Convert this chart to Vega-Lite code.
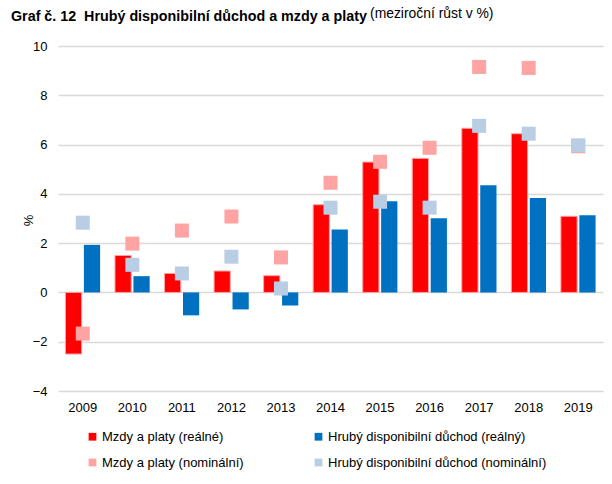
{
  "$schema": "https://vega.github.io/schema/vega-lite/v6.json",
  "width": 545,
  "height": 345,
  "autosize": "none",
  "padding": {"left": 58, "top": 46, "right": 9, "bottom": 93},
  "background": "white",
  "title": {
    "text": "Graf č. 12\u00a0 Hrubý disponibilní důchod a mzdy a platy",
    "subtitle": "(meziroční růst v %)",
    "anchor": "start",
    "frame": "group",
    "orient": "top",
    "offset": 14,
    "dx": -47,
    "font": "Liberation Sans",
    "fontSize": 14.3,
    "fontWeight": "bold",
    "color": "#000000",
    "subtitleFont": "Liberation Sans",
    "subtitleFontSize": 13.9,
    "subtitleFontWeight": "normal",
    "subtitleColor": "#000000",
    "subtitlePadding": -16.5,
    "encode": {"subtitle": {"update": {"dx": {"value": 312}}}}
  },
  "data": {
    "values": [
      {"year": "2009", "series": "Mzdy a platy (reálné)", "value": -2.5},
      {"year": "2009", "series": "Hrubý disponibilní důchod (reálný)", "value": 1.93},
      {"year": "2009", "series": "Mzdy a platy (nominální)", "value": -1.67},
      {"year": "2009", "series": "Hrubý disponibilní důchod (nominální)", "value": 2.83},
      {"year": "2010", "series": "Mzdy a platy (reálné)", "value": 1.5},
      {"year": "2010", "series": "Hrubý disponibilní důchod (reálný)", "value": 0.66},
      {"year": "2010", "series": "Mzdy a platy (nominální)", "value": 1.98},
      {"year": "2010", "series": "Hrubý disponibilní důchod (nominální)", "value": 1.12},
      {"year": "2011", "series": "Mzdy a platy (reálné)", "value": 0.77},
      {"year": "2011", "series": "Hrubý disponibilní důchod (reálný)", "value": -0.93},
      {"year": "2011", "series": "Mzdy a platy (nominální)", "value": 2.51},
      {"year": "2011", "series": "Hrubý disponibilní důchod (nominální)", "value": 0.77},
      {"year": "2012", "series": "Mzdy a platy (reálné)", "value": 0.87},
      {"year": "2012", "series": "Hrubý disponibilní důchod (reálný)", "value": -0.69},
      {"year": "2012", "series": "Mzdy a platy (nominální)", "value": 3.08},
      {"year": "2012", "series": "Hrubý disponibilní důchod (nominální)", "value": 1.45},
      {"year": "2013", "series": "Mzdy a platy (reálné)", "value": 0.68},
      {"year": "2013", "series": "Hrubý disponibilní důchod (reálný)", "value": -0.53},
      {"year": "2013", "series": "Mzdy a platy (nominální)", "value": 1.42},
      {"year": "2013", "series": "Hrubý disponibilní důchod (nominální)", "value": 0.16},
      {"year": "2014", "series": "Mzdy a platy (reálné)", "value": 3.56},
      {"year": "2014", "series": "Hrubý disponibilní důchod (reálný)", "value": 2.55},
      {"year": "2014", "series": "Mzdy a platy (nominální)", "value": 4.45},
      {"year": "2014", "series": "Hrubý disponibilní důchod (nominální)", "value": 3.44},
      {"year": "2015", "series": "Mzdy a platy (reálné)", "value": 5.29},
      {"year": "2015", "series": "Hrubý disponibilní důchod (reálný)", "value": 3.7},
      {"year": "2015", "series": "Mzdy a platy (nominální)", "value": 5.3},
      {"year": "2015", "series": "Hrubý disponibilní důchod (nominální)", "value": 3.68},
      {"year": "2016", "series": "Mzdy a platy (reálné)", "value": 5.44},
      {"year": "2016", "series": "Hrubý disponibilní důchod (reálný)", "value": 3.01},
      {"year": "2016", "series": "Mzdy a platy (nominální)", "value": 5.87},
      {"year": "2016", "series": "Hrubý disponibilní důchod (nominální)", "value": 3.44},
      {"year": "2017", "series": "Mzdy a platy (reálné)", "value": 6.66},
      {"year": "2017", "series": "Hrubý disponibilní důchod (reálný)", "value": 4.35},
      {"year": "2017", "series": "Mzdy a platy (nominální)", "value": 9.15},
      {"year": "2017", "series": "Hrubý disponibilní důchod (nominální)", "value": 6.76},
      {"year": "2018", "series": "Mzdy a platy (reálné)", "value": 6.44},
      {"year": "2018", "series": "Hrubý disponibilní důchod (reálný)", "value": 3.83},
      {"year": "2018", "series": "Mzdy a platy (nominální)", "value": 9.11},
      {"year": "2018", "series": "Hrubý disponibilní důchod (nominální)", "value": 6.44},
      {"year": "2019", "series": "Mzdy a platy (reálné)", "value": 3.09},
      {"year": "2019", "series": "Hrubý disponibilní důchod (reálný)", "value": 3.13},
      {"year": "2019", "series": "Mzdy a platy (nominální)", "value": 5.93},
      {"year": "2019", "series": "Hrubý disponibilní důchod (nominální)", "value": 5.97}
    ]
  },
  "encoding": {
    "x": {
      "field": "year",
      "type": "nominal",
      "scale": {"paddingInner": 0.3, "paddingOuter": 0.15},
      "axis": {
        "title": null,
        "labelAngle": 0,
        "labelFont": "Liberation Sans",
        "labelFontSize": 13,
        "labelColor": "#000000",
        "labelPadding": 10,
        "ticks": false,
        "domain": false,
        "grid": false
      }
    },
    "y": {
      "field": "value",
      "type": "quantitative",
      "scale": {"domain": [-4, 10], "nice": false},
      "axis": {
        "title": "%",
        "titleFont": "Liberation Sans",
        "titleFontSize": 13,
        "titleFontWeight": "normal",
        "titleColor": "#000000",
        "titleAngle": -90,
        "titleX": -30,
        "titleY": 174,
        "titleAlign": "center",
        "titleBaseline": "middle",
        "values": [-4, -2, 0, 2, 4, 6, 8, 10],
        "labelFont": "Liberation Sans",
        "labelFontSize": 13,
        "labelColor": "#000000",
        "labelPadding": 11,
        "ticks": false,
        "domain": false,
        "grid": true,
        "gridColor": "#d9d9d9",
        "gridWidth": 1.5
      }
    },
    "color": {
      "field": "series",
      "type": "nominal",
      "scale": {
        "domain": [
          "Mzdy a platy (reálné)",
          "Mzdy a platy (nominální)",
          "Hrubý disponibilní důchod (reálný)",
          "Hrubý disponibilní důchod (nominální)"
        ],
        "range": ["#ff0000", "#ffa3a3", "#0070c0", "#b9cde5"]
      },
      "legend": {
        "title": null,
        "orient": "none",
        "legendX": 28,
        "legendY": 384,
        "columns": 2,
        "gridAlign": "each",
        "columnPadding": 68,
        "rowPadding": 12,
        "symbolType": "square",
        "symbolSize": 60,
        "symbolStrokeWidth": 0,
        "symbolOpacity": 1,
        "labelFont": "Liberation Sans",
        "labelFontSize": 13,
        "labelColor": "#000000",
        "labelOffset": 3,
        "labelLimit": 300
      }
    }
  },
  "layer": [
    {
      "transform": [
        {"filter": "datum.series === 'Mzdy a platy (reálné)' || datum.series === 'Hrubý disponibilní důchod (reálný)'"}
      ],
      "mark": {"type": "bar", "stroke": "#ffa3a3", "strokeWidth": 0},
      "encoding": {
        "xOffset": {
          "field": "series",
          "type": "nominal",
          "scale": {
            "domain": ["Mzdy a platy (reálné)", "Hrubý disponibilní důchod (reálný)"],
            "paddingInner": 0.12
          }
        },
        "strokeWidth": {
          "condition": {"test": "datum.series === 'Mzdy a platy (reálné)'", "value": 1},
          "value": 0
        }
      }
    },
    {
      "transform": [
        {"filter": "datum.series === 'Mzdy a platy (nominální)' || datum.series === 'Hrubý disponibilní důchod (nominální)'"}
      ],
      "mark": {"type": "point", "shape": "square", "filled": true, "opacity": 1, "size": 196}
    }
  ],
  "config": {
    "view": {"stroke": null},
    "font": "Liberation Sans"
  }
}
